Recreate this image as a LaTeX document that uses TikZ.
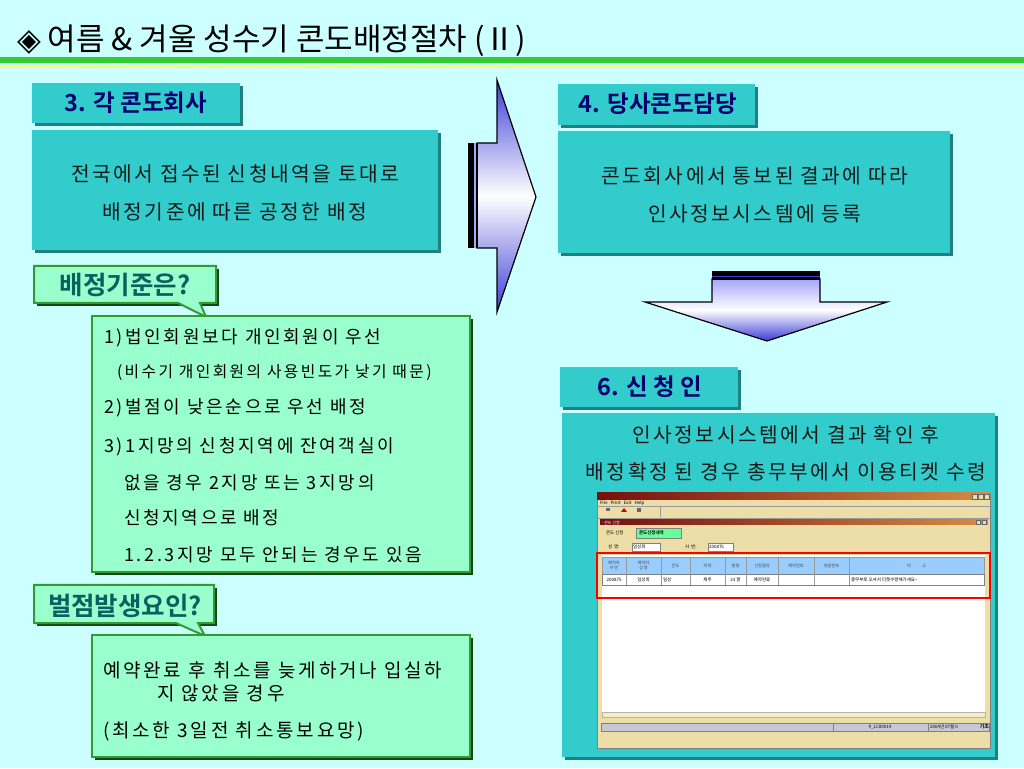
\documentclass[tikz,border=0pt]{standalone}
\usepackage{fontspec}
\setmainfont{Noto Sans CJK KR}[BoldFont={Noto Sans CJK KR Bold}]
\newfontfamily\krbody[LetterSpace=12]{Noto Sans CJK KR}
\newfontfamily\krlist[LetterSpace=15]{Noto Sans CJK KR}
\newfontfamily\symfont{DejaVu Sans}
\usetikzlibrary{shapes}

\begin{document}
\begin{tikzpicture}[x=1pt,y=1pt,
  hdrtext/.style={text=hdrColor,anchor=center,inner sep=0pt,outer sep=0pt,font=\fontsize{23.5}{25}\selectfont\bfseries},
  bodytext/.style={text=bodyColor,anchor=center,inner sep=0pt,outer sep=0pt,font=\krbody\fontsize{20.3}{22}\selectfont},
  listtext/.style={text=black,anchor=west,inner sep=0pt,outer sep=0pt,font=\krlist\fontsize{18}{20}\selectfont},
  calltext/.style={text=callColor,anchor=center,inner sep=0pt,outer sep=0pt,font=\fontsize{25.5}{27}\selectfont\bfseries},
  wintext/.style={text=black,anchor=west,inner sep=0pt,outer sep=0pt,font=\fontsize{4.5}{5}\selectfont},
  cellhead/.style={text=black!70,anchor=center,inner sep=0pt,outer sep=0pt,align=center,font=\fontsize{4.2}{4.6}\selectfont},
  cellrow/.style={text=black,anchor=center,inner sep=0pt,outer sep=0pt,font=\fontsize{4.5}{5}\selectfont}]
\definecolor{fillColor}{RGB}{204,255,255}
\path[use as bounding box,fill=fillColor] (0,0) rectangle (1024,768);

% title and rules
\definecolor{lineGreen}{RGB}{51,204,51}
\definecolor{lineYellow}{RGB}{255,255,102}
\path[fill=lineGreen] (0,705) rectangle (1024,711);
\path[fill=lineYellow] (0,700) rectangle (1024,703);
\node[text=black,anchor=base west,inner sep=0pt,outer sep=0pt,font=\fontsize{31}{33}\selectfont] (title) at (17,717) {{\symfont ◈} 여름 \& 겨울 성수기 콘도배정절차 (Ⅱ)};

\definecolor{boxTeal}{RGB}{51,204,204}
\definecolor{shadeTeal}{RGB}{31,128,128}
\definecolor{hdrColor}{RGB}{0,0,110}
\definecolor{bodyColor}{RGB}{25,25,25}
\definecolor{boxGreen}{RGB}{153,255,204}
\definecolor{edgeGreen}{RGB}{51,153,51}
\definecolor{shadeGreen}{RGB}{20,70,20}
\definecolor{callColor}{RGB}{10,95,95}

% 3. company column
\path[fill=shadeTeal] (35,642) rectangle (243,682);
\path[fill=boxTeal] (32,645) rectangle (240,685);
\node[hdrtext] (hdrCompany) at (136,665) {3. 각 콘도회사};

\path[fill=shadeTeal] (35,515) rectangle (441,635);
\path[fill=boxTeal] (32,518) rectangle (438,638);
\node[bodytext] (company1) at (235,594) {전국에서 접수된 신청내역을 토대로};
\node[bodytext] (company2) at (235,556) {배정기준에 따른 공정한 배정};

% criteria callout
\path[fill=shadeGreen] (37,462) -- (219,462) -- (219,499) -- (37,499) -- cycle;
\path[fill=boxGreen,draw=edgeGreen,line width=2pt,line join=miter] (34,502) -- (216,502) -- (216,465) -- (200,465) -- (206,451) -- (178,465) -- (34,465) -- cycle;
\node[calltext] (callCriteria) at (125,483) {배정기준은?};

\path[fill=shadeGreen] (95,193) rectangle (473,449);
\path[fill=boxGreen,draw=edgeGreen,line width=2pt] (92,196) rectangle (470,452);
\node[listtext] (crit1) at (104,430) {1)법인회원보다 개인회원이 우선};
\node[listtext,font=\krlist\fontsize{15.8}{17}\selectfont] (crit1b) at (117,395) {(비수기 개인회원의 사용빈도가 낮기 때문)};
\node[listtext] (crit2) at (104,360) {2)벌점이 낮은순으로 우선 배정};
\node[listtext] (crit3) at (104,321) {3)1지망의 신청지역에 잔여객실이};
\node[listtext] (crit3b) at (124,285) {없을 경우 2지망 또는 3지망의};
\node[listtext] (crit3c) at (124,250) {신청지역으로 배정};
\node[listtext] (crit3d) at (124,213) {1.2.3지망 모두 안되는 경우도 있음};

% penalty callout
\path[fill=shadeGreen] (37,142) -- (217,142) -- (217,180) -- (37,180) -- cycle;
\path[fill=boxGreen,draw=edgeGreen,line width=2pt,line join=miter] (34,183) -- (214,183) -- (214,145) -- (198,145) -- (205,132) -- (176,145) -- (34,145) -- cycle;
\node[calltext] (callPenalty) at (125,162) {벌점발생요인?};

\path[fill=shadeGreen] (95,8) rectangle (473,130);
\path[fill=boxGreen,draw=edgeGreen,line width=2pt] (92,11) rectangle (470,133);
\node[listtext,font=\krlist\fontsize{19}{21}\selectfont] (pen1) at (103,98) {예약완료 후 취소를 늦게하거나 입실하};
\node[listtext,font=\krlist\fontsize{19}{21}\selectfont] (pen1b) at (157,75) {지 않았을 경우};
\node[listtext,font=\krlist\fontsize{19}{21}\selectfont] (pen2) at (103,36) {(최소한 3일전 취소통보요망)};

% arrows
\definecolor{arrowBlue}{RGB}{60,60,215}
\definecolor{arrowLight}{RGB}{165,165,250}
\path[draw=black,line width=1.2pt,line join=miter,top color=arrowBlue,bottom color=arrowBlue,middle color=white] (477,625) -- (497,625) -- (497,688) -- (536,571) -- (497,456) -- (497,520) -- (477,520) -- cycle;
\path[fill=black] (468,520) rectangle (474,625);
\path[fill=arrowLight] (474,520) rectangle (475.5,625);
\path[fill=black] (475.5,520) rectangle (478,625);

\path[draw=black,line width=1.2pt,line join=miter,top color=arrowLight,bottom color=arrowBlue,middle color=white] (712,489) -- (820,489) -- (820,466) -- (887,466) -- (767,427) -- (645,466) -- (712,466) -- cycle;
\path[fill=black] (712,492) rectangle (820,497);
\path[fill=arrowBlue] (712,490.5) rectangle (820,492);
\path[fill=black] (712,488) rectangle (820,490.5);

% 4. our condo staff
\path[fill=shadeTeal] (561,640) rectangle (758,681);
\path[fill=boxTeal] (558,643) rectangle (755,684);
\node[hdrtext] (hdrStaff) at (658,664) {4. 당사콘도담당};

\path[fill=shadeTeal] (561,512) rectangle (953,634);
\path[fill=boxTeal] (558,515) rectangle (950,637);
\node[bodytext] (staff1) at (755,592) {콘도회사에서 통보된 결과에 따라};
\node[bodytext] (staff2) at (755,554) {인사정보시스템에 등록};

% 6. applicant
\path[fill=shadeTeal] (563,358) rectangle (741,398);
\path[fill=boxTeal] (560,361) rectangle (738,401);
\node[hdrtext] (hdrApplicant) at (650,381) {6. 신 청 인};

\path[fill=shadeTeal] (565,8) rectangle (998,352);
\path[fill=boxTeal] (562,11) rectangle (995,355);
\node[bodytext] (appl1) at (786,333) {인사정보시스템에서 결과 확인 후};
\node[bodytext] (appl2) at (786,296) {배정확정 된 경우 총무부에서 이용티켓 수령};

% screen capture
\definecolor{winBeige}{RGB}{236,222,166}
\definecolor{winRed}{RGB}{120,14,14}
\definecolor{winOrange}{RGB}{214,140,66}
\definecolor{tblBlue}{RGB}{153,204,255}
\definecolor{stGray}{RGB}{200,200,212}
\definecolor{tabGreen}{RGB}{102,255,153}
\definecolor{scrollBeige}{RGB}{245,236,200}

\path[fill=winBeige,draw=black!50,line width=0.4pt] (597,20) rectangle (990,275);
\path[left color=winRed,right color=winOrange] (597,268) rectangle (990,275);
\path[fill=winBeige,draw=black!60,line width=0.3pt] (972,269) rectangle (977,274);
\path[fill=winBeige,draw=black!60,line width=0.3pt] (978,269) rectangle (983,274);
\path[fill=winBeige,draw=black!60,line width=0.3pt] (984,269) rectangle (989,274);
\node[wintext] (menuBar) at (600,265) {File~~~Print~~~Exit~~~Help};
\path[draw=black!40,line width=0.3pt] (597,262) -- (990,262);
\path[fill=black!60] (606,257) rectangle (610,260);
\path[fill=red!80!black] (621,256) -- (624,260) -- (627,256) -- cycle;
\path[fill=black!60] (637,256) rectangle (641,260);
\path[draw=black!40,line width=0.3pt] (660,251) -- (660,261);
\path[draw=black!40,line width=0.3pt] (597,250) -- (990,250);

\path[left color=winRed,right color=winOrange] (600,243) rectangle (988,248);
\node[wintext,text=white,font=\fontsize{4}{4.5}\selectfont] (innerTitle) at (602,245.5) {- 콘도 신청};
\path[fill=winBeige,draw=black!60,line width=0.3pt] (976,244) rectangle (980,247.5);
\path[fill=winBeige,draw=black!60,line width=0.3pt] (982,244) rectangle (986,247.5);
\node[wintext] (tabApply) at (606,235) {콘도~신청};
\path[fill=tabGreen,draw=black!50,line width=0.3pt] (636,230) rectangle (681,240);
\node[wintext,font=\fontsize{4.5}{5}\selectfont\bfseries] (tabList) at (639,235) {콘도신청내역};
\node[wintext] (nameLabel) at (608,221) {성~~명:};
\path[fill=white,draw=black!50,line width=0.3pt] (632,217) rectangle (660,225);
\node[wintext] (nameValue) at (633,221) {임성희};
\node[wintext] (idLabel) at (685,221) {사~~번:};
\path[fill=white,draw=black!50,line width=0.3pt] (708,217) rectangle (733,225);
\node[wintext] (idValue) at (709,221) {200875};

\path[fill=white] (602,55) rectangle (985,213);
\path[fill=tblBlue,draw=black!40,line width=0.3pt] (602,194) rectangle (984,211);
\path[draw=black!50,line width=0.3pt] (602,183) rectangle (984,194);
\path[draw=black!40,line width=0.3pt] (626,183) -- (626,211);
\path[draw=black!40,line width=0.3pt] (661,183) -- (661,211);
\path[draw=black!40,line width=0.3pt] (690,183) -- (690,211);
\path[draw=black!40,line width=0.3pt] (725,183) -- (725,211);
\path[draw=black!40,line width=0.3pt] (746,183) -- (746,211);
\path[draw=black!40,line width=0.3pt] (778,183) -- (778,211);
\path[draw=black!40,line width=0.3pt] (814,183) -- (814,211);
\path[draw=black!40,line width=0.3pt] (849,183) -- (849,211);
\node[cellhead] (colId) at (614,202.5) {예약자\\사~번};
\node[cellhead] (colName) at (643.5,202.5) {예약자\\성~명};
\node[cellhead] (colCondo) at (675.5,202.5) {콘도};
\node[cellhead] (colArea) at (707.5,202.5) {지역};
\node[cellhead] (colSize) at (735.5,202.5) {평형};
\node[cellhead] (colResult) at (762,202.5) {신청결과};
\node[cellhead] (colBook) at (796,202.5) {예약번호};
\node[cellhead] (colMember) at (831.5,202.5) {회원번호};
\node[cellhead] (colNote) at (916.5,202.5) {비~~~~~~~~~~~~고};
\node[cellrow] (rowId) at (614,188.5) {200875};
\node[cellrow] (rowName) at (643.5,188.5) {임성희};
\node[cellrow,anchor=west] (rowCondo) at (663,188.5) {일성};
\node[cellrow] (rowArea) at (707.5,188.5) {제주};
\node[cellrow] (rowSize) at (735.5,188.5) {23~평};
\node[cellrow] (rowResult) at (762,188.5) {예약완료};
\node[cellrow,anchor=west] (rowNote) at (851,188.5) {총무부로 오셔서 티켓수령해가세요\textasciitilde};
\path[draw=red,line width=1.6pt] (597,170) rectangle (990,215);

\path[fill=scrollBeige,draw=black!30,line width=0.3pt] (602,51) rectangle (985,56);
\path[fill=stGray,draw=black!50,line width=0.3pt] (601,37) rectangle (833,45);
\path[fill=stGray,draw=black!50,line width=0.3pt] (833,37) rectangle (928,45);
\path[fill=stGray,draw=black!50,line width=0.3pt] (928,37) rectangle (989,45);
\node[cellrow] (statusUser) at (880,41) {\#\_LC00014};
\node[cellrow,anchor=west] (statusDate) at (930,41) {2004년 07월 0};
\node[cellrow,anchor=east,font=\fontsize{5}{5.5}\selectfont\bfseries] (statusMode) at (989,41) {기초};
\end{tikzpicture}
\end{document}
